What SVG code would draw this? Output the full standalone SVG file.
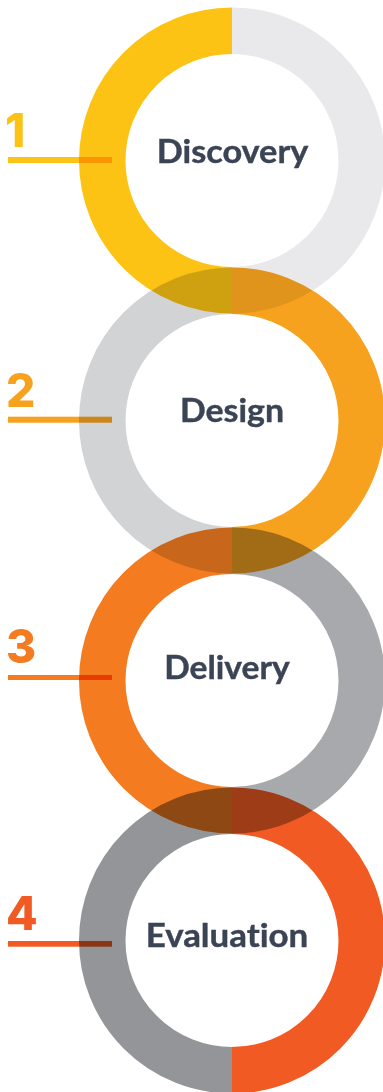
<svg xmlns="http://www.w3.org/2000/svg" width="383" height="1092" viewBox="0 0 383 1092">
<style>
.ring{fill:none;stroke-width:46.5;mix-blend-mode:multiply}
.bar{mix-blend-mode:multiply}
.num{font-family:Inter,"Liberation Sans",sans-serif;font-weight:800;font-size:46px}
.lbl{font-family:Lato,"Liberation Sans",sans-serif;font-weight:700;font-size:32px;fill:#3B4455;text-anchor:middle;stroke:#3B4455;stroke-width:0.4;font-variant-ligatures:none;font-feature-settings:"liga" 0,"dlig" 0}
</style>
<rect width="383" height="1092" fill="#FFFFFF"/>
<g id="connectors"></g>
<g id="node1">
<path class="ring" stroke="#FDC314" d="M232,30.75 A129.75,129.75 0 0 0 232,290.25"/>
<path class="ring" stroke="#E9E9EB" d="M232,30.75 A129.75,129.75 0 0 1 232,290.25"/>
<rect class="bar" x="8" y="157" width="104" height="6" fill="#FDC314"/>
<text class="num" x="5" y="146.5" fill="#FDC314">1</text>
<text class="lbl" x="232.5" y="163.3" textLength="151.6" lengthAdjust="spacingAndGlyphs">Discovery</text>
</g>
<g id="node2">
<path class="ring" stroke="#D1D3D4" d="M232,290.75 A129.75,129.75 0 0 0 232,550.25"/>
<path class="ring" stroke="#F7A21E" d="M232,290.75 A129.75,129.75 0 0 1 232,550.25"/>
<rect class="bar" x="8" y="416.7" width="104" height="6" fill="#F7A21E"/>
<text class="num" x="6" y="406.5" fill="#F7A21E">2</text>
<text class="lbl" x="232" y="421.7" textLength="104" lengthAdjust="spacingAndGlyphs">Design</text>
</g>
<g id="node3">
<path class="ring" stroke="#F47B20" d="M232,550.75 A129.75,129.75 0 0 0 232,810.25"/>
<path class="ring" stroke="#A7A9AC" d="M232,550.75 A129.75,129.75 0 0 1 232,810.25"/>
<rect class="bar" x="8" y="675" width="104" height="5" fill="#F47B20"/>
<text class="num" x="6" y="663" fill="#F47B20">3</text>
<text class="lbl" x="227" y="679.3" textLength="125.7" lengthAdjust="spacingAndGlyphs">Delivery</text>
</g>
<g id="node4">
<path class="ring" stroke="#939598" d="M232,810.75 A129.75,129.75 0 0 0 232,1070.25"/>
<path class="ring" stroke="#F15A22" d="M232,810.75 A129.75,129.75 0 0 1 232,1070.25"/>
<rect class="bar" x="8" y="941" width="104" height="5.7" fill="#F15A22"/>
<text class="num" x="6" y="929.5" fill="#F15A22">4</text>
<text class="lbl" x="227" y="946.7" textLength="162.6" lengthAdjust="spacingAndGlyphs">Evaluation</text>
</g>
</svg>
